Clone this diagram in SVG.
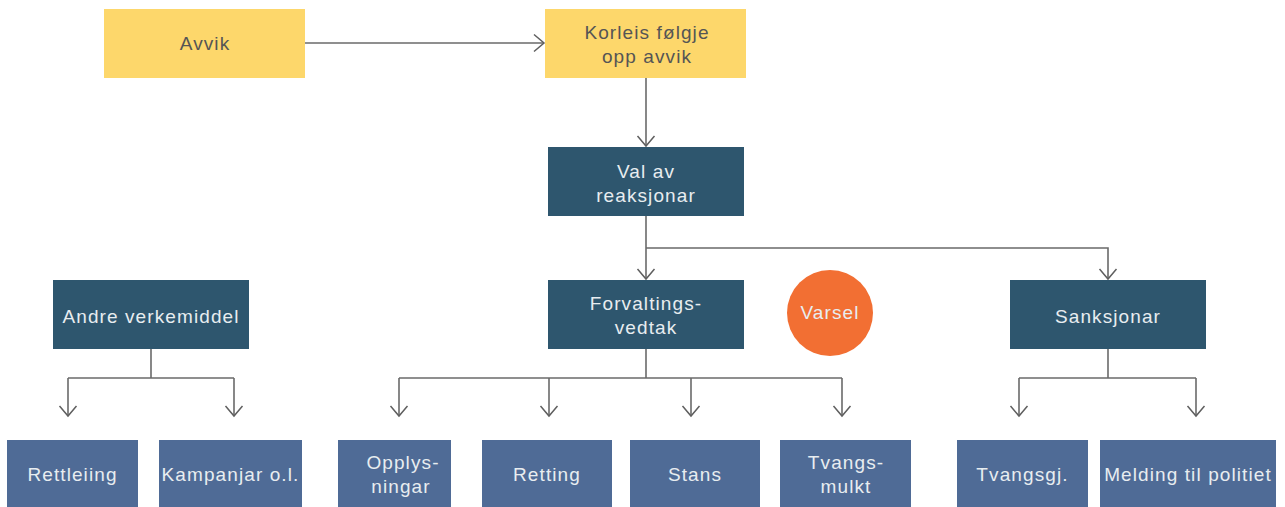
<svg xmlns="http://www.w3.org/2000/svg" width="1285" height="507" viewBox="0 0 1285 507">
<defs>
<marker id="arr" markerUnits="userSpaceOnUse" markerWidth="24" markerHeight="24" viewBox="-12 -12 24 24" refX="0" refY="0" orient="auto">
<path d="M-10,-8.5 L0,0 L-10,8.5" fill="none" stroke="#5f5f5f" stroke-width="1.5"/>
</marker>
<style>
.y{fill:#FDD76B}
.d{fill:#2E566E}
.b{fill:#4F6B96}
.t{font-family:"Liberation Sans",Arial,sans-serif;font-size:19px;text-anchor:middle;letter-spacing:1.1px}
.tl{fill:#E8EDF0}
.tk{fill:#555555}
.c{fill:none;stroke:#6a6a6a;stroke-width:1.6}
</style>
</defs>
<g id="connectors">
<path class="c" d="M305,43 H544" marker-end="url(#arr)"/>
<path class="c" d="M646,78 V146" marker-end="url(#arr)"/>
<path class="c" d="M646,216 V279" marker-end="url(#arr)"/>
<path class="c" d="M646,248 H1108 V279" marker-end="url(#arr)"/>
<path class="c" d="M151,349 V378"/>
<path class="c" d="M68,378 H234"/>
<path class="c" d="M68,378 V416" marker-end="url(#arr)"/>
<path class="c" d="M234,378 V416" marker-end="url(#arr)"/>
<path class="c" d="M646,349 V378"/>
<path class="c" d="M399,378 H842"/>
<path class="c" d="M399,378 V416" marker-end="url(#arr)"/>
<path class="c" d="M549,378 V416" marker-end="url(#arr)"/>
<path class="c" d="M691,378 V416" marker-end="url(#arr)"/>
<path class="c" d="M842,378 V416" marker-end="url(#arr)"/>
<path class="c" d="M1108,349 V378"/>
<path class="c" d="M1019,378 H1196"/>
<path class="c" d="M1019,378 V416" marker-end="url(#arr)"/>
<path class="c" d="M1196,378 V416" marker-end="url(#arr)"/>
</g>
<g id="avvik"><rect class="y" x="104" y="9" width="201" height="69"/><text class="t tk" x="205" y="50">Avvik</text></g>
<g id="korleis"><rect class="y" x="545" y="9" width="201" height="69"/><text class="t tk" x="647" y="39">Korleis følgje</text><text class="t tk" x="647" y="63">opp avvik</text></g>
<g id="val"><rect class="d" x="548" y="147" width="196" height="69"/><text class="t tl" x="646" y="178">Val av</text><text class="t tl" x="646" y="202">reaksjonar</text></g>
<g id="andre"><rect class="d" x="53" y="280" width="196" height="69"/><text class="t tl" x="151" y="323">Andre verkemiddel</text></g>
<g id="forvaltings"><rect class="d" x="548" y="280" width="196" height="69"/><text class="t tl" x="646" y="310">Forvaltings-</text><text class="t tl" x="646" y="334">vedtak</text></g>
<g id="varsel"><circle cx="830" cy="313" r="43" fill="#F26F33"/><text class="t tl" x="830" y="319">Varsel</text></g>
<g id="sanksjonar"><rect class="d" x="1010" y="280" width="196" height="69"/><text class="t tl" x="1108" y="323">Sanksjonar</text></g>
<g id="rettleiing"><rect class="b" x="7" y="440" width="131" height="67"/><text class="t tl" x="72.5" y="481">Rettleiing</text></g>
<g id="kampanjar"><rect class="b" x="159" y="440" width="143" height="67"/><text class="t tl" x="230.5" y="481">Kampanjar o.l.</text></g>
<g id="opplysningar"><rect class="b" x="338" y="440" width="113" height="67"/><text class="t tl" x="403" y="469">Opplys-</text><text class="t tl" x="401" y="493">ningar</text></g>
<g id="retting"><rect class="b" x="482" y="440" width="130" height="67"/><text class="t tl" x="547" y="481">Retting</text></g>
<g id="stans"><rect class="b" x="630" y="440" width="130" height="67"/><text class="t tl" x="695" y="481">Stans</text></g>
<g id="tvangsmulkt"><rect class="b" x="780" y="440" width="131" height="67"/><text class="t tl" x="846" y="469">Tvangs-</text><text class="t tl" x="846" y="493">mulkt</text></g>
<g id="tvangsgj"><rect class="b" x="957" y="440" width="131" height="67"/><text class="t tl" x="1022.5" y="481">Tvangsgj.</text></g>
<g id="melding"><rect class="b" x="1100" y="440" width="176" height="67"/><text class="t tl" x="1188" y="481">Melding til politiet</text></g>
</svg>
